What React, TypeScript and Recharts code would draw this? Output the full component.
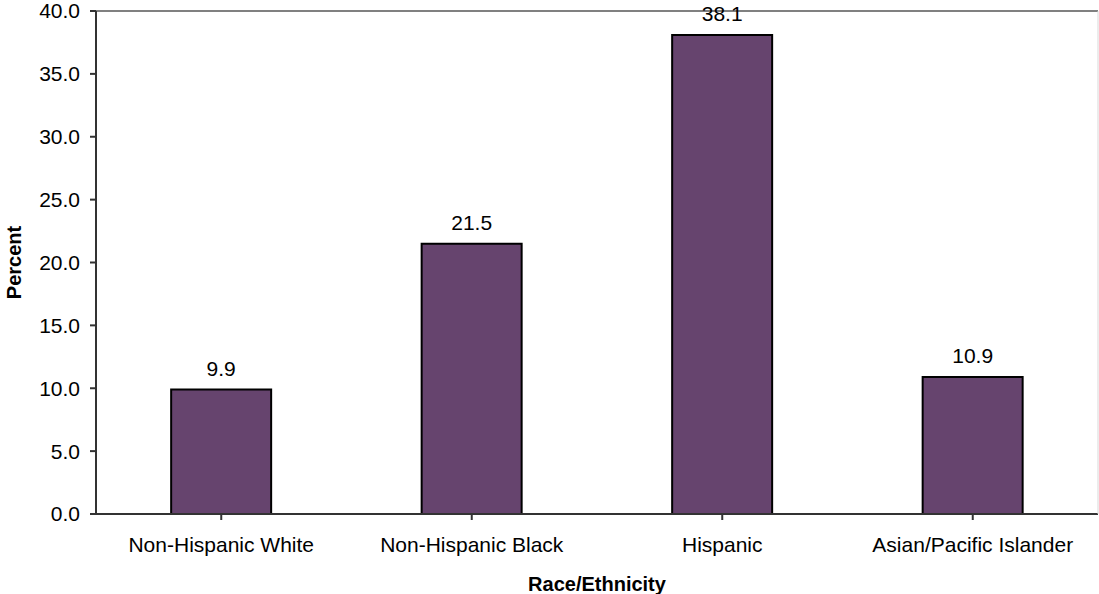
import { BarChart, Bar, XAxis, YAxis, LabelList, ReferenceLine, Label } from 'recharts'

// values
const groups = ['Non-Hispanic White', 'Non-Hispanic Black', 'Hispanic', 'Asian/Pacific Islander']
const percents = [9.9, 21.5, 38.1, 10.9]
const yTicks = [0, 5, 10, 15, 20, 25, 30, 35, 40]

const data = groups.map((g, i) => ({ group: g, percent: percents[i] }))

const font = '"Liberation Sans", Arial, sans-serif'
const tickStyle = { fill: '#000', fontSize: 21, fontFamily: font }
const titleStyle = { fontWeight: 'bold', fontSize: 20, fill: '#000', fontFamily: font }

export default function App() {
  return (
    <div style={{ position: 'absolute', left: 0, top: 0, width: 1099, height: 594, background: '#fff', fontFamily: font }}>
      <BarChart
        width={1099}
        height={594}
        data={data}
        margin={{ top: 11, right: 0, bottom: 0, left: 0 }}
        barCategoryGap="30%"
      >
        <XAxis
          dataKey="group"
          interval={0}
          tick={tickStyle}
          tickSize={6}
          tickMargin={17}
          stroke="#333"
          strokeWidth={2}
          height={80}
        >
          <Label value="Race/Ethnicity" position="insideBottom" offset={3} style={titleStyle} />
        </XAxis>
        <YAxis
          domain={[0, 40]}
          ticks={yTicks}
          tickFormatter={(v: number) => v.toFixed(1)}
          tick={tickStyle}
          tickSize={6}
          tickMargin={10}
          stroke="#333"
          strokeWidth={2}
          width={96}
          interval={0}
        >
          <Label
            value="Percent"
            angle={-90}
            position="insideLeft"
            offset={14}
            style={{ ...titleStyle, textAnchor: 'middle' }}
          />
        </YAxis>
        <YAxis yAxisId="right" orientation="right" width={1} stroke="#d9d9d9" tick={false} tickLine={false} />
        <ReferenceLine y={40} stroke="#808080" strokeWidth={2} />
        <Bar dataKey="percent" fill="#66446E" stroke="#000" strokeWidth={2} isAnimationActive={false}>
          <LabelList
            dataKey="percent"
            position="top"
            offset={14}
            formatter={(v: number) => v.toFixed(1)}
            style={{ fill: '#000', fontSize: 21, fontFamily: font }}
          />
        </Bar>
      </BarChart>
    </div>
  )
}
